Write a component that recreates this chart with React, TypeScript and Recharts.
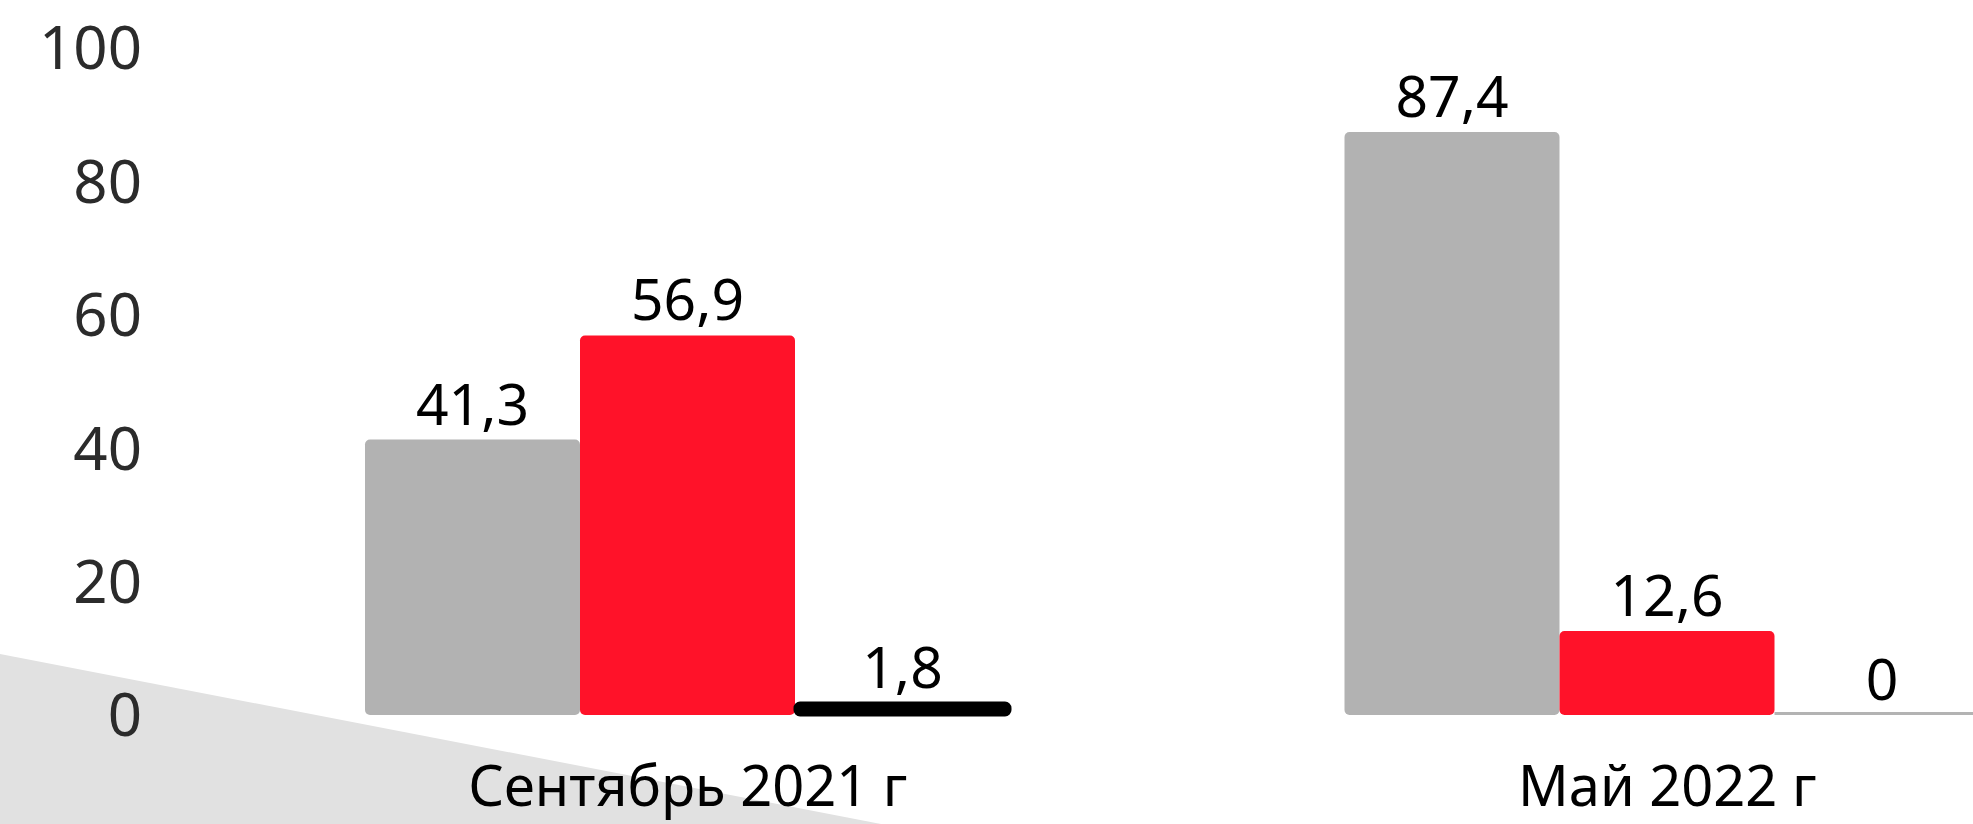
import React from "react";
import { Bar, BarChart, LabelList, XAxis, YAxis } from "recharts";

const categories = ["Сентябрь 2021 г", "Май 2022 г"];
const grayValues = [41.3, 87.4];
const redValues = [56.9, 12.6];
const blackValues = [1.8, 0];
const yTicks = [0, 20, 40, 60, 80, 100];

const chartData = categories.map((name, i) => ({
  name,
  gray: grayValues[i],
  red: redValues[i],
  black: blackValues[i],
}));

const FONT = "'Noto Sans', sans-serif";

const fmt = (v: any) => String(v).replace(".", ",");

// zero values show up as a thin gray line on the baseline
const BarShape = (props: any) => {
  const { x, y, width, height, fill, stroke } = props;
  if (!height || height < 1) {
    return <rect x={x} y={y - 3} width={width} height={3} fill="#b3b3b3" />;
  }
  return (
    <rect
      x={x}
      y={y}
      width={width}
      height={height}
      rx={5}
      ry={5}
      fill={fill}
      stroke={stroke}
      strokeWidth={stroke ? 3 : 0}
    />
  );
};

const valueLabel = {
  position: "top" as const,
  offset: 15,
  formatter: fmt,
  fill: "#000",
  fontSize: 57,
  fontFamily: FONT,
};

export default function App() {
  return (
    <div
      style={{
        position: "absolute",
        left: 0,
        top: 0,
        width: 1973,
        height: 824,
        overflow: "hidden",
        background: "#fff",
      }}
    >
      <svg
        width={1973}
        height={824}
        style={{ position: "absolute", left: 0, top: 0 }}
      >
        <polygon points="0,654 881,824 0,824" fill="#e1e1e1" />
      </svg>
      <div style={{ position: "absolute", left: 0, top: 0 }}>
        <BarChart
          width={2157}
          height={824}
          data={chartData}
          margin={{ top: 48, right: 0, bottom: 0, left: 0 }}
          barCategoryGap={167}
          barGap={0}
        >
          <XAxis
            dataKey="name"
            axisLine={false}
            tickLine={false}
            tickSize={0}
            tickMargin={51}
            height={109}
            interval={0}
            tick={{ fill: "#000", fontSize: 56, fontFamily: FONT }}
          />
          <YAxis
            domain={[0, 100]}
            ticks={yTicks}
            axisLine={false}
            tickLine={false}
            tickSize={0}
            tickMargin={56}
            width={198}
            tick={{ fill: "#2b2b2b", fontSize: 60, fontFamily: FONT }}
          />
          <Bar dataKey="gray" fill="#b2b2b2" shape={BarShape} isAnimationActive={false}>
            <LabelList dataKey="gray" {...valueLabel} />
          </Bar>
          <Bar dataKey="red" fill="#ff1229" shape={BarShape} isAnimationActive={false}>
            <LabelList dataKey="red" {...valueLabel} />
          </Bar>
          <Bar
            dataKey="black"
            fill="#000000"
            stroke="#000000"
            shape={BarShape}
            isAnimationActive={false}
          >
            <LabelList dataKey="black" {...valueLabel} />
          </Bar>
        </BarChart>
      </div>
    </div>
  );
}
